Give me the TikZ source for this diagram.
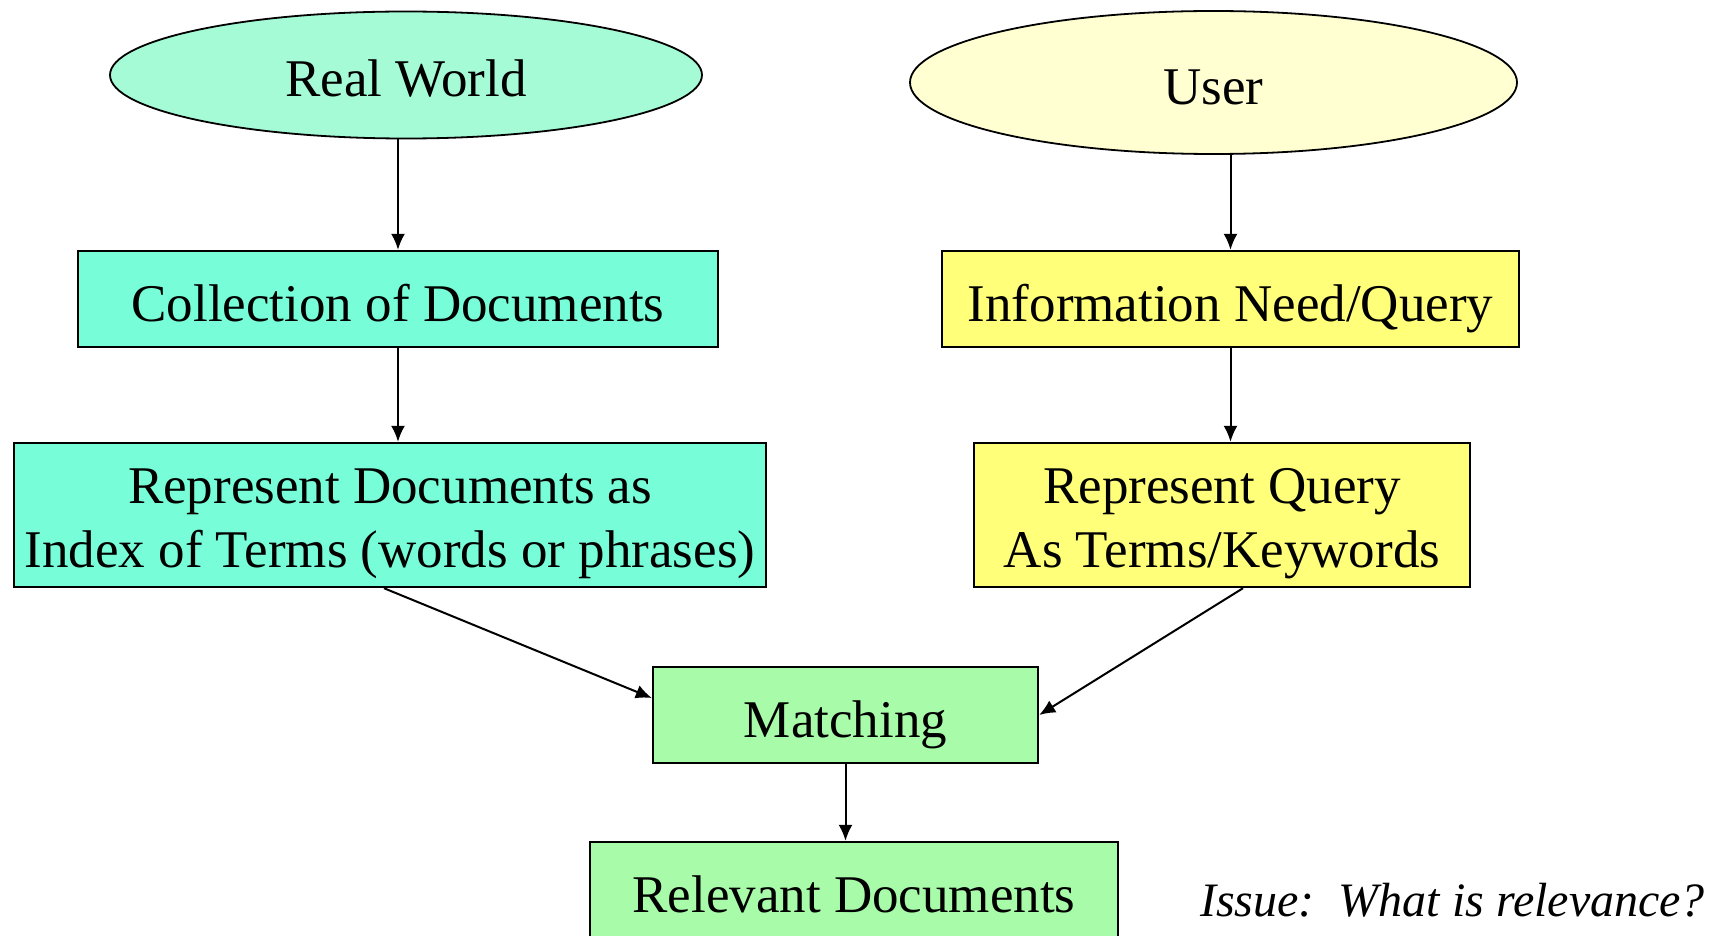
\documentclass[tikz,border=0pt]{standalone}
\usepackage{fontspec}
\setmainfont{Liberation Serif}
\usetikzlibrary{arrows.meta,calc,shapes.geometric}
\definecolor{rwfill}{HTML}{A6FBD7}
\definecolor{docfill}{HTML}{77FDD7}
\definecolor{userfill}{HTML}{FFFFD2}
\definecolor{qfill}{HTML}{FFFF7A}
\definecolor{mfill}{HTML}{A8FBA8}
\tikzset{
  base/.style={draw=black, inner sep=0pt, font=\fontsize{53}{64}\selectfont, align=center},
  oval/.style={base, ellipse, line width=1.8pt, text height=44pt, text depth=0pt},
  onebox/.style={base, rectangle, line width=2.4pt, text height=44pt, text depth=0pt},
  twobox/.style={base, rectangle, line width=2.4pt},
  arr/.style={-{Latex[length=16pt,width=14pt]}, line width=2pt},
  note/.style={font=\fontsize{48}{58}\selectfont\itshape, inner sep=0pt}
}
\begin{document}
\begin{tikzpicture}[x=1pt,y=-1pt]
\useasboundingbox (0,0) rectangle (1725,936);
\fill[white] (0,0) rectangle (1725,936);

\node[oval, fill=rwfill, minimum width=592pt, minimum height=127pt] (rw) at (406,75) {Real World};
\node[oval, fill=userfill, minimum width=607pt, minimum height=143pt] (user) at (1213.5,82.5) {User};

\node[onebox, fill=docfill, minimum width=640pt, minimum height=96pt] (col) at (398,299) {Collection of Documents};
\node[onebox, fill=qfill, minimum width=577pt, minimum height=96pt] (info) at (1230.5,299) {Information Need/Query};

\node[twobox, fill=docfill, minimum width=752pt, minimum height=144pt] (rep) at (390,515)
  {\rule{0pt}{52pt}Represent Documents as\\Index of Terms (words or phrases)\rule[-12pt]{0pt}{0pt}};
\node[twobox, fill=qfill, minimum width=496pt, minimum height=144pt] (rq) at (1222,515)
  {\rule{0pt}{52pt}Represent Query\\As Terms/Keywords\rule[-12pt]{0pt}{0pt}};

\node[onebox, fill=mfill, minimum width=385pt, minimum height=96pt] (match) at (845.5,715) {Matching};
\node[onebox, fill=mfill, minimum width=528pt, minimum height=96pt] (rel) at (854,890) {Relevant Documents};

\node[note, anchor=base west] (issue) at (1200,916) {Issue:\ \ What is relevance?};

\draw[arr] (col.north |- rw.south) -- (col.north);
\draw[arr] (col.south) -- (col.south |- rep.north);
\draw[arr] (info.north |- user.south) -- (info.north);
\draw[arr] (info.south) -- (info.south |- rq.north);
\draw[arr] ($(rep.south)+(-6,0)$) -- ($(match.west)+(0,-17)$);
\draw[arr] ($(rq.south)+(21,0)$) -- (match.east);
\draw[arr] (match.south) -- (match.south |- rel.north);
\end{tikzpicture}
\end{document}
